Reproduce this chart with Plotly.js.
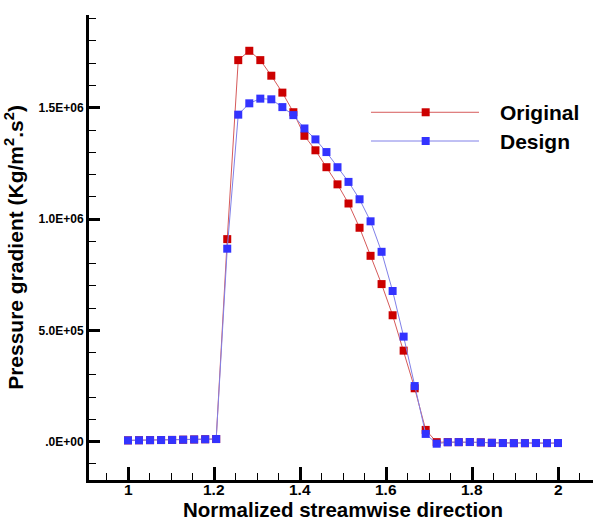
<!DOCTYPE html>
<html>
<head>
<meta charset="utf-8">
<script src="https://cdn.plot.ly/plotly-3.0.1.min.js"></script>
<style>
  html, body { margin: 0; padding: 0; background: #ffffff; }
  #chart { width: 593px; height: 522px; }
</style>
</head>
<body>
<div id="chart"></div>
<script>
// Streamwise stations: 40 equally spaced points from 1 to 2
const xStations = [
  1.0000, 1.0256, 1.0513, 1.0769, 1.1026, 1.1282, 1.1538, 1.1795, 1.2051, 1.2308,
  1.2564, 1.2821, 1.3077, 1.3333, 1.3590, 1.3846, 1.4103, 1.4359, 1.4615, 1.4872,
  1.5128, 1.5385, 1.5641, 1.5897, 1.6154, 1.6410, 1.6667, 1.6923, 1.7179, 1.7436,
  1.7692, 1.7949, 1.8205, 1.8462, 1.8718, 1.8974, 1.9231, 1.9487, 1.9744, 2.0000
];

// Pressure gradient, original geometry
const originalGradient = [
  6000, 6500, 7000, 7500, 8000, 9000, 10000, 11000, 12000, 910000,
  1714000, 1756000, 1714000, 1644000, 1568000, 1480000, 1374000, 1309000, 1233000, 1156000,
  1070000, 961000, 835000, 708000, 568000, 409000, 240000, 53000, -2000, -2000,
  -2000, -1500, -3000, -5000, -6000, -6500, -6500, -6000, -6500, -6000
];

// Pressure gradient, design geometry
const designGradient = [
  6000, 6500, 7000, 7500, 8000, 9000, 10000, 11000, 12000, 867000,
  1469000, 1520000, 1541000, 1538000, 1503000, 1467000, 1407000, 1358000, 1301000, 1233000,
  1167000, 1089000, 990000, 853000, 677000, 472000, 250000, 35000, -9000, -2500,
  -2000, -1500, -3000, -5000, -6000, -6500, -6500, -6000, -6500, -6000
];

const seriesNames = ['Original', 'Design'];

const xTickVals = [1, 1.2, 1.4, 1.6, 1.8, 2];
const xTickText = ['1', '1.2', '1.4', '1.6', '1.8', '2'];
const yTickVals = [0, 500000, 1000000, 1500000];
const yTickText = ['.0E+00', '5.0E+05', '1.0E+06', '1.5E+06'];

const xTitle = 'Normalized streamwise direction';
const yTitle = 'Pressure gradient (Kg/m<sup>2</sup>.s<sup>2</sup>)';

const FONT = 'Liberation Sans, Arial, Helvetica, sans-serif';
const RED_MARK = '#cc0000';
const RED_LINE = 'rgb(214,90,90)';
const BLUE_MARK = '#3333ff';
const BLUE_LINE = 'rgb(128,128,232)';

const traces = [
  {
    x: xStations, y: originalGradient, name: seriesNames[0],
    type: 'scatter', mode: 'lines+markers',
    line: { color: RED_LINE, width: 1 },
    marker: { symbol: 'square', size: 8, color: RED_MARK }
  },
  {
    x: xStations, y: designGradient, name: seriesNames[1],
    type: 'scatter', mode: 'lines+markers',
    line: { color: BLUE_LINE, width: 1 },
    marker: { symbol: 'square', size: 8, color: BLUE_MARK }
  }
];

// Hand-built legend: long sample lines with a centred square marker
const legendX0 = 0.5595, legendX1 = 0.7738, legendMid = 0.668, legendTextX = 0.8115;
const legendRows = [
  { y: 0.7908, line: RED_LINE, mark: RED_MARK, label: seriesNames[0] },
  { y: 0.7290, line: BLUE_LINE, mark: BLUE_MARK, label: seriesNames[1] }
];
const shapes = [];
const annotations = [];
legendRows.forEach(r => {
  shapes.push({
    type: 'line', xref: 'paper', yref: 'paper',
    x0: legendX0, x1: legendX1, y0: r.y, y1: r.y,
    line: { color: r.line, width: 1 }
  });
  shapes.push({
    type: 'rect', xref: 'paper', yref: 'paper',
    xsizemode: 'pixel', ysizemode: 'pixel',
    xanchor: legendMid, yanchor: r.y,
    x0: -4, x1: 4, y0: -4, y1: 4,
    fillcolor: r.mark, line: { width: 0 }
  });
  annotations.push({
    xref: 'paper', yref: 'paper', x: legendTextX, y: r.y,
    xanchor: 'left', yanchor: 'middle', showarrow: false,
    text: r.label,
    font: { family: FONT, size: 21, weight: 'bold', color: '#000000' }
  });
});

// X tick labels sit close under the axis line, placed on the x scale
xTickVals.forEach((v, i) => {
  annotations.push({
    xref: 'x', yref: 'paper', x: v, y: -0.0215,
    xanchor: 'center', yanchor: 'middle', showarrow: false,
    borderpad: 0,
    text: xTickText[i],
    font: { family: FONT, size: 15.5, weight: 'bold', color: '#000000' }
  });
});

// Axis title below the tick labels
annotations.push({
  xref: 'paper', yref: 'paper', x: 0.503, y: -0.0645,
  xanchor: 'center', yanchor: 'middle', showarrow: false,
  borderpad: 0,
  text: xTitle,
  font: { family: FONT, size: 20.5, weight: 'bold', color: '#000000' }
});

const layout = {
  width: 593, height: 522,
  margin: { l: 89, r: 0, t: 15, b: 42 },
  paper_bgcolor: '#ffffff', plot_bgcolor: '#ffffff',
  showlegend: false,
  font: { family: FONT, color: '#000000' },
  xaxis: {
    range: [0.9093, 2.0814],
    showgrid: false, zeroline: false,
    showline: true, linecolor: '#000000', linewidth: 3,
    tickmode: 'array', tickvals: xTickVals, showticklabels: false,
    ticks: 'inside', ticklen: 13, tickwidth: 3, tickcolor: '#000000',
    minor: { tickmode: 'linear', tick0: 1, dtick: 0.05, ticks: 'inside', ticklen: 7, tickwidth: 1, tickcolor: '#000000', showgrid: false },
    automargin: false
  },
  yaxis: {
    range: [-172000, 1916700],
    showgrid: false, zeroline: false,
    showline: true, linecolor: '#000000', linewidth: 3,
    tickmode: 'array', tickvals: yTickVals, ticktext: yTickText,
    ticks: 'inside', ticklen: 11, tickwidth: 3, tickcolor: '#000000',
    tickfont: { family: FONT, size: 12, weight: 'bold', color: '#000000' },
    minor: { tickmode: 'linear', tick0: 0, dtick: 100000, ticks: 'inside', ticklen: 7, tickwidth: 1, tickcolor: '#000000', showgrid: false },
    title: { text: yTitle, standoff: 10,
             font: { family: FONT, size: 21, weight: 'bold', color: '#000000' } },
    automargin: false
  },
  shapes: shapes,
  annotations: annotations
};

Plotly.newPlot('chart', traces, layout, { displayModeBar: false, staticPlot: true });
</script>
</body>
</html>
